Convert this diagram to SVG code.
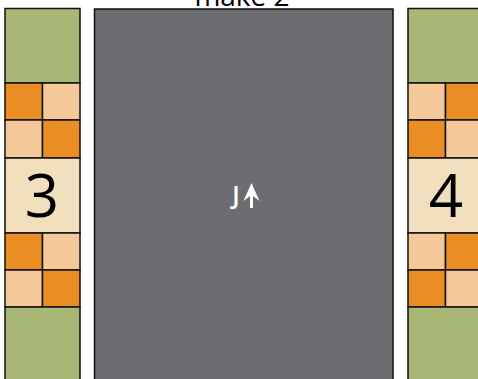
<svg xmlns="http://www.w3.org/2000/svg" width="478" height="379" viewBox="0 0 478 379">
<style>
.g{fill:#a8b676;stroke:#111;stroke-width:1.5}
.d{fill:#e98d24;stroke:#111;stroke-width:1.5}
.l{fill:#f5c89a;stroke:#111;stroke-width:1.5}
.c{fill:#f2dfbe;stroke:#111;stroke-width:1.5}
.num{font-family:"Open Sans",sans-serif;font-size:60px;fill:#000;text-anchor:middle}
</style>
<rect width="478" height="379" fill="#fff"/>
<text x="242" y="6" font-family="Open Sans, sans-serif" font-size="28" text-anchor="middle" fill="#000">make 2</text>
<g id="road">
<rect x="94.5" y="9" width="298.5" height="380" fill="#6c6d70" stroke="#111" stroke-width="1.5"/>
<text x="236" y="204" font-family="Open Sans, sans-serif" font-size="25" font-weight="600" fill="#fff" text-anchor="middle">J</text>
<path d="M251.5 183 L259.5 201 L253 196 L253 208 L250 208 L250 196 L243.5 201 Z" fill="#fff"/>
</g>
<g id="strip3">
<rect class="g" x="5" y="8.5" width="75" height="74.5"/>
<rect class="d" x="5" y="83" width="37.5" height="37"/>
<rect class="l" x="42.5" y="83" width="37.5" height="37"/>
<rect class="l" x="5" y="120" width="37.5" height="38"/>
<rect class="d" x="42.5" y="120" width="37.5" height="38"/>
<rect class="c" x="5" y="158" width="75" height="75"/>
<rect class="d" x="5" y="233" width="37.5" height="37"/>
<rect class="l" x="42.5" y="233" width="37.5" height="37"/>
<rect class="l" x="5" y="270" width="37.5" height="37"/>
<rect class="d" x="42.5" y="270" width="37.5" height="37"/>
<rect class="g" x="5" y="307" width="75" height="80"/>
<text class="num" x="42" y="217">3</text>
</g>
<g id="strip4">
<rect class="g" x="408" y="8.5" width="75" height="74.5"/>
<rect class="l" x="408" y="83" width="37.5" height="37"/>
<rect class="d" x="445.5" y="83" width="37.5" height="37"/>
<rect class="d" x="408" y="120" width="37.5" height="38"/>
<rect class="l" x="445.5" y="120" width="37.5" height="38"/>
<rect class="c" x="408" y="158" width="75" height="75"/>
<rect class="l" x="408" y="233" width="37.5" height="37"/>
<rect class="d" x="445.5" y="233" width="37.5" height="37"/>
<rect class="d" x="408" y="270" width="37.5" height="37"/>
<rect class="l" x="445.5" y="270" width="37.5" height="37"/>
<rect class="g" x="408" y="307" width="75" height="80"/>
<text class="num" x="446" y="217">4</text>
</g>
<g id="connectors"/>
</svg>
